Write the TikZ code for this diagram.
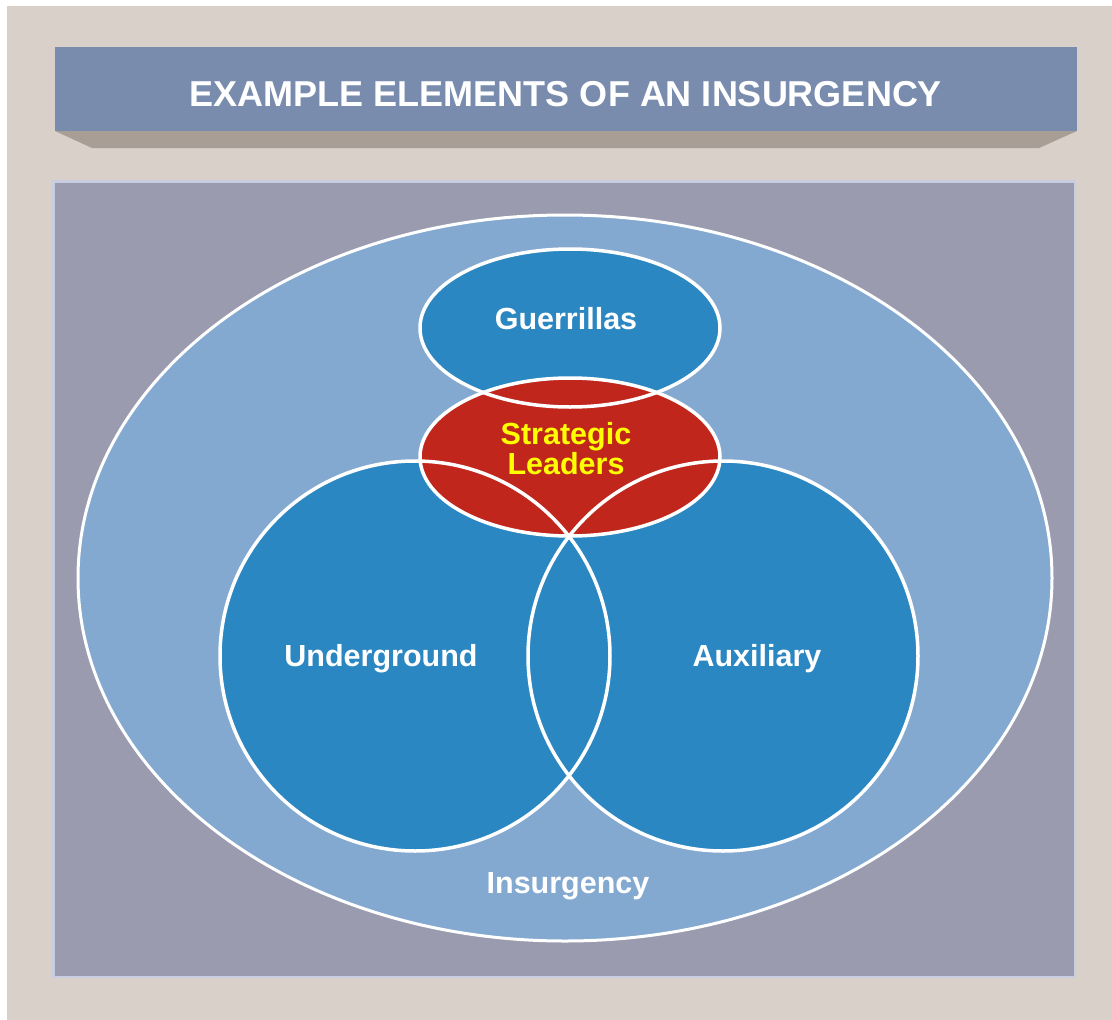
\documentclass[tikz,border=0pt]{standalone}
\usepackage{fontspec}
\setmainfont{Liberation Sans}
\usepackage{tikz}
\definecolor{frame}{HTML}{DAD0CA}
\definecolor{banner}{HTML}{798CAE}
\definecolor{bannershade}{HTML}{A99E95}
\definecolor{panel}{HTML}{9B9BB0}
\definecolor{panelrim}{HTML}{C8CDE2}
\definecolor{outer}{HTML}{84A9D0}
\definecolor{group}{HTML}{2B87C1}
\definecolor{core}{HTML}{C1261C}
\definecolor{corefont}{HTML}{FFFF00}
\tikzset{
  rim/.style={draw=white, line width=3.5pt},
  lbl/.style={text=white, font=\fontsize{30.5}{30}\selectfont\bfseries, align=center}
}

\begin{document}
\begin{tikzpicture}[x=1pt, y=-1pt]
        \useasboundingbox (0,0) rectangle (1112,1020);
        \fill[white] (0,0) rectangle (1112,1020);
        \fill[frame] (7,6) rectangle (1112,1020);
        % title banner
        \fill[bannershade] (55,131) -- (92,148) -- (1039,148) -- (1077,131) -- cycle;
        \fill[banner] (55,47) rectangle (1077,131);
        \node[lbl, font=\fontsize{36}{36}\selectfont\bfseries] (title) at (566,94) {EXAMPLE ELEMENTS OF AN INSURGENCY};
        % panel
        \fill[panel, draw=panelrim, line width=2.5pt] (53.5,181.5) rectangle (1075,977);
        \fill[outer, rim, line width=3pt] (565,578) ellipse [x radius=487pt, y radius=363pt];
        % groups
        \fill[group] (570,328) ellipse [x radius=150pt, y radius=79pt];
        \fill[group] (415,656) circle [radius=195pt];
        \fill[group] (723,656) circle [radius=195pt];
        \fill[core] (570,457) ellipse [x radius=150pt, y radius=79pt];
        \draw[rim] (570,328) ellipse [x radius=150pt, y radius=79pt];
        \draw[rim] (415,656) circle [radius=195pt];
        \draw[rim] (723,656) circle [radius=195pt];
        \draw[rim] (570,457) ellipse [x radius=150pt, y radius=79pt];
        % labels
        \node[lbl] (guerrillas) at (566,319) {Guerrillas};
        \node[lbl, text=corefont] (leaders) at (566,449) {Strategic\\Leaders};
        \node[lbl] (underground) at (381,659) {Underground};
        \node[lbl] (auxiliary) at (757,659) {Auxiliary};
        \node[lbl] (insurgency) at (568,886) {Insurgency};
\end{tikzpicture}
\end{document}
